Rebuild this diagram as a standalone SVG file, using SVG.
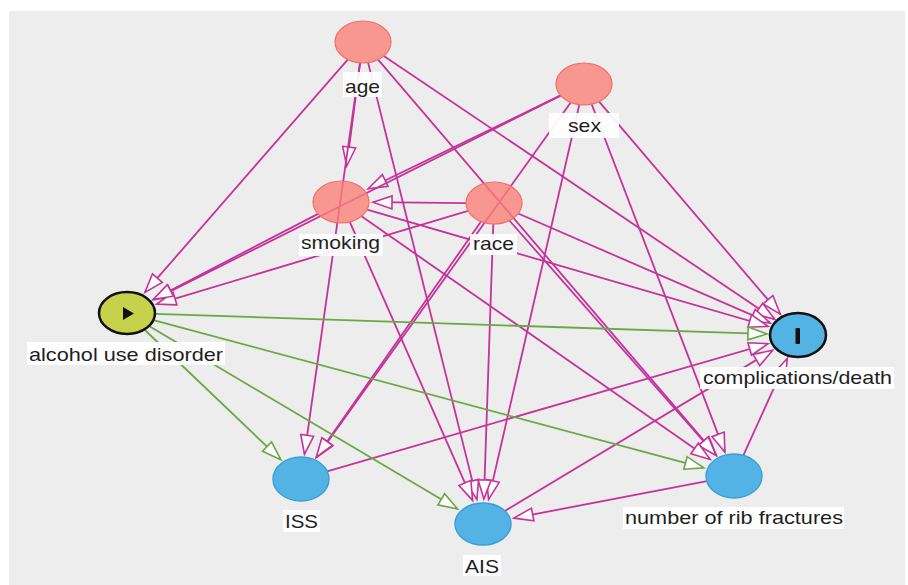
<svg xmlns="http://www.w3.org/2000/svg" width="908" height="585" viewBox="0 0 908 585">
<style>
.e{fill:none;stroke:#c4339b;stroke-width:1.8;marker-end:url(#am)}
.g{fill:none;stroke:#68a845;stroke-width:1.8;marker-end:url(#ag)}
.adj{fill:#fa8078;fill-opacity:0.8;stroke:#f07068;stroke-width:1.2}
.out{fill:#52b3e4;stroke:#3a9fd6;stroke-width:1.4}
.lb{fill:#fff;fill-opacity:0.92}
.t{font-family:"Liberation Sans",Arial,sans-serif;font-size:19px;fill:#1e1e1e}
</style>
<defs>
<marker id="am" viewBox="-22 -9 24 18" refX="0" refY="0" markerWidth="24" markerHeight="18" markerUnits="userSpaceOnUse" orient="auto" overflow="visible">
<path d="M0,0 L-19,-6.5 L-19,6.5 Z" fill="#fff" stroke="#c4339b" stroke-width="1.6"/>
</marker>
<marker id="ag" viewBox="-22 -9 24 18" refX="0" refY="0" markerWidth="24" markerHeight="18" markerUnits="userSpaceOnUse" orient="auto" overflow="visible">
<path d="M0,0 L-19,-6.5 L-19,6.5 Z" fill="#fff" stroke="#68a845" stroke-width="1.6"/>
</marker>
</defs>
<rect x="0" y="0" width="908" height="585" fill="#fff"/>
<rect x="9" y="11" width="896" height="574" fill="#ededed"/>
<g id="edges">
<line class="e" x1="347.7" y1="59.6" x2="144.9" y2="292.4"/>
<line class="e" x1="360.1" y1="62.9" x2="346.7" y2="166"/>
<line class="e" x1="360.0" y1="62.9" x2="304.5" y2="454.2"/>
<line class="e" x1="368.1" y1="62.6" x2="476.9" y2="499.4"/>
<line class="e" x1="378.1" y1="59.7" x2="716.3" y2="455.2"/>
<line class="e" x1="383.8" y1="56.0" x2="774.7" y2="319.3"/>
<line class="e" x1="560.5" y1="95.4" x2="368.1" y2="188.8"/>
<line class="e" x1="560.7" y1="95.7" x2="153.8" y2="299.6"/>
<line class="e" x1="570.7" y1="102.5" x2="316.6" y2="457.3"/>
<line class="e" x1="579.3" y1="104.7" x2="488.6" y2="499.4"/>
<line class="e" x1="591.7" y1="104.2" x2="724.9" y2="452.1"/>
<line class="e" x1="599.1" y1="101.7" x2="780.3" y2="314.2"/>
<line class="e" x1="466" y1="203.2" x2="373" y2="202.2"/>
<line class="e" x1="468" y1="210.8" x2="156.8" y2="304.1"/>
<line class="e" x1="481" y1="221.6" x2="316.3" y2="457.1"/>
<line class="e" x1="493.3" y1="224" x2="483.9" y2="499"/>
<line class="e" x1="509.4" y1="220.5" x2="716" y2="455.5"/>
<line class="e" x1="518.2" y1="213.5" x2="770.1" y2="322.9"/>
<line class="e" x1="318" y1="213.9" x2="153.5" y2="299.2"/>
<line class="e" x1="349.8" y1="221.9" x2="472.6" y2="500.4"/>
<line class="e" x1="361.5" y1="216.3" x2="710.2" y2="459.4"/>
<line class="e" x1="367.1" y1="209.6" x2="768" y2="326.3"/>
<line class="e" x1="327.1" y1="471.4" x2="768" y2="343.7"/>
<line class="e" x1="504.9" y1="510.9" x2="772.7" y2="350.2"/>
<line class="e" x1="706.9" y1="481.2" x2="514" y2="518.1"/>
<line class="e" x1="743" y1="456.1" x2="787.3" y2="358.5"/>
<line class="g" x1="155" y1="313.9" x2="767" y2="334"/>
<line class="g" x1="144.3" y1="329.5" x2="280.8" y2="459.7"/>
<line class="g" x1="149" y1="326" x2="457.6" y2="509"/>
<line class="g" x1="153.4" y1="320.1" x2="703.8" y2="467.9"/>
</g>
<g id="age">
<ellipse class="adj" cx="363" cy="42" rx="28" ry="21"/>
<rect class="lb" x="343" y="72" width="39" height="25"/>
<text class="t" x="345" y="93" textLength="35" lengthAdjust="spacingAndGlyphs">age</text>
</g>
<g id="sex">
<ellipse class="adj" cx="584" cy="84" rx="28" ry="21"/>
<rect class="lb" x="549" y="113" width="70" height="25"/>
<text class="t" x="568" y="132" textLength="33" lengthAdjust="spacingAndGlyphs">sex</text>
</g>
<g id="smoking">
<ellipse class="adj" cx="341" cy="202" rx="28" ry="21"/>
<rect class="lb" x="299" y="234" width="84" height="22"/>
<text class="t" x="301" y="249" textLength="79" lengthAdjust="spacingAndGlyphs">smoking</text>
</g>
<g id="race">
<ellipse class="adj" cx="494" cy="203" rx="28" ry="21"/>
<rect class="lb" x="470" y="234" width="47" height="21"/>
<text class="t" x="473" y="250" textLength="41" lengthAdjust="spacingAndGlyphs">race</text>
</g>
<g id="alcohol">
<ellipse cx="127" cy="313" rx="28" ry="21" fill="#c6d24c" stroke="#111" stroke-width="2.5"/>
<path d="M123,307 L123,320 L134,313.5 Z" fill="#111"/>
<rect class="lb" x="27" y="342" width="198" height="23"/>
<text class="t" x="29" y="361" textLength="194" lengthAdjust="spacingAndGlyphs">alcohol use disorder</text>
</g>
<g id="complications">
<ellipse cx="798" cy="335" rx="28" ry="22" fill="#52b3e4" stroke="#111" stroke-width="2.5"/>
<rect x="795.5" y="328" width="4.5" height="16" rx="1" fill="#111"/>
<rect class="lb" x="700" y="367" width="194" height="22"/>
<text class="t" x="703" y="384" textLength="189" lengthAdjust="spacingAndGlyphs">complications/death</text>
</g>
<g id="iss">
<ellipse class="out" cx="301" cy="479" rx="28" ry="22"/>
<rect class="lb" x="283" y="510" width="37" height="22"/>
<text class="t" x="285" y="528" textLength="33" lengthAdjust="spacingAndGlyphs">ISS</text>
</g>
<g id="ais">
<ellipse class="out" cx="483" cy="524" rx="28" ry="21"/>
<rect class="lb" x="463" y="555" width="38" height="21"/>
<text class="t" x="465" y="573" textLength="34" lengthAdjust="spacingAndGlyphs">AIS</text>
</g>
<g id="ribs">
<ellipse class="out" cx="734" cy="476" rx="28" ry="22"/>
<rect class="lb" x="623" y="507" width="221" height="22"/>
<text class="t" x="625" y="524" textLength="218" lengthAdjust="spacingAndGlyphs">number of rib fractures</text>
</g>
</svg>
